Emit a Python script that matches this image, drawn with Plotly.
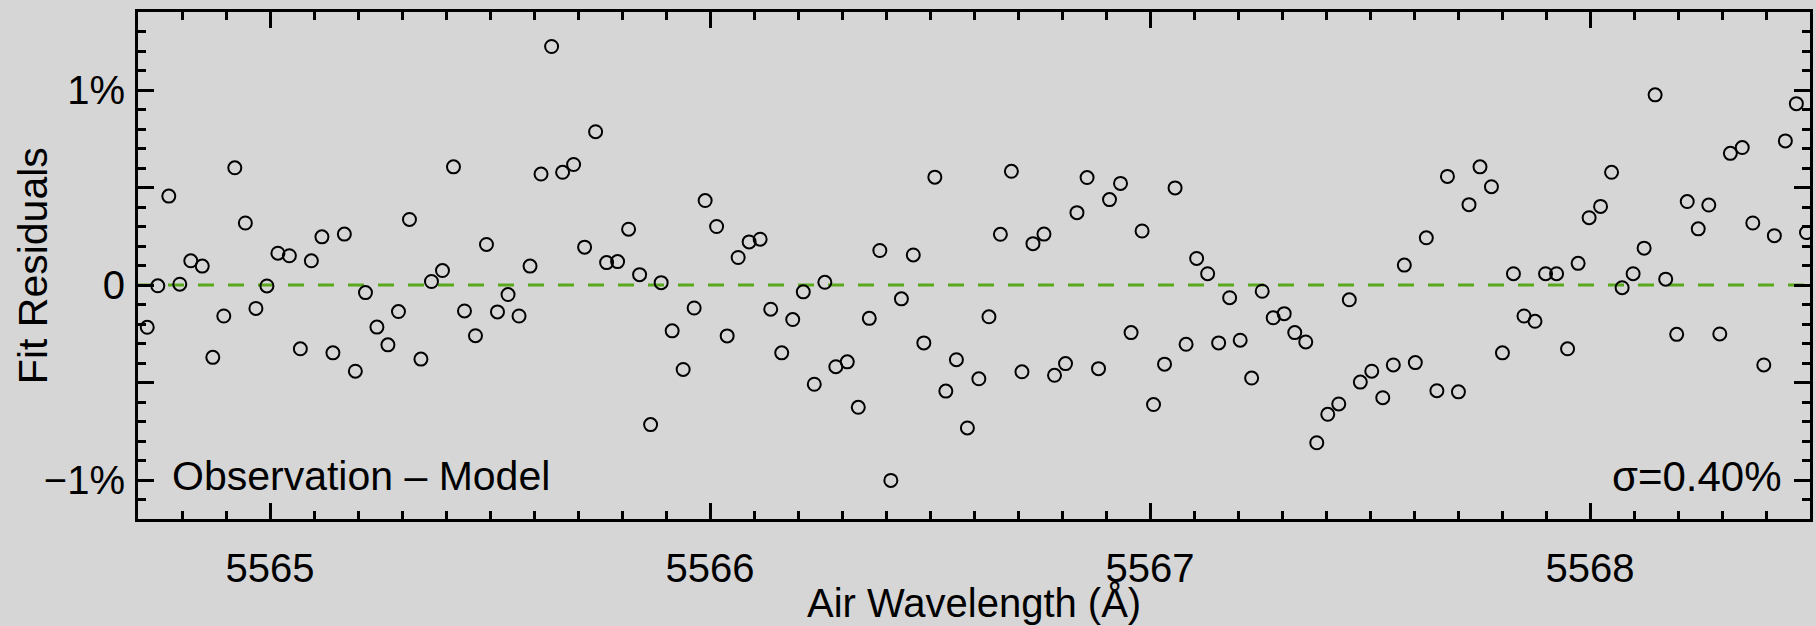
import plotly.graph_objects as go

# ---- data ----
wavelength = [
    5564.721, 5564.745, 5564.770, 5564.795, 5564.820, 5564.846, 5564.870, 5564.895, 5564.920, 5564.944,
    5564.968, 5564.993, 5565.018, 5565.044, 5565.069, 5565.094, 5565.118, 5565.143, 5565.169, 5565.194,
    5565.217, 5565.243, 5565.268, 5565.292, 5565.317, 5565.343, 5565.367, 5565.392, 5565.417, 5565.442,
    5565.467, 5565.492, 5565.517, 5565.541, 5565.566, 5565.591, 5565.616, 5565.640, 5565.665, 5565.690,
    5565.715, 5565.740, 5565.765, 5565.790, 5565.815, 5565.840, 5565.865, 5565.889, 5565.914, 5565.939,
    5565.964, 5565.989, 5566.015, 5566.039, 5566.064, 5566.089, 5566.114, 5566.138, 5566.163, 5566.188,
    5566.212, 5566.237, 5566.261, 5566.286, 5566.312, 5566.337, 5566.362, 5566.386, 5566.411, 5566.435,
    5566.462, 5566.486, 5566.511, 5566.536, 5566.560, 5566.585, 5566.611, 5566.634, 5566.660, 5566.685,
    5566.709, 5566.734, 5566.759, 5566.783, 5566.808, 5566.834, 5566.857, 5566.883, 5566.908, 5566.933,
    5566.957, 5566.982, 5567.008, 5567.033, 5567.057, 5567.082, 5567.106, 5567.131, 5567.156, 5567.181,
    5567.205, 5567.231, 5567.255, 5567.280, 5567.305, 5567.329, 5567.354, 5567.379, 5567.404, 5567.429,
    5567.453, 5567.478, 5567.504, 5567.529, 5567.553, 5567.578, 5567.603, 5567.628, 5567.652, 5567.676,
    5567.701, 5567.725, 5567.750, 5567.776, 5567.801, 5567.826, 5567.850, 5567.875, 5567.899, 5567.924,
    5567.949, 5567.973, 5567.998, 5568.024, 5568.049, 5568.073, 5568.098, 5568.123, 5568.148, 5568.172,
    5568.197, 5568.221, 5568.246, 5568.270, 5568.295, 5568.319, 5568.346, 5568.370, 5568.395, 5568.419,
    5568.444, 5568.469, 5568.492,
]
residual_pct = [
    -0.217, -0.004, 0.456, 0.004, 0.124, 0.097, -0.371, -0.159, 0.601, 0.318,
    -0.120, -0.005, 0.163, 0.150, -0.327, 0.124, 0.247, -0.348, 0.261, -0.442,
    -0.039, -0.216, -0.307, -0.136, 0.336, -0.380, 0.018, 0.074, 0.606, -0.133,
    -0.260, 0.208, -0.138, -0.049, -0.159, 0.097, 0.569, 1.223, 0.578, 0.618,
    0.194, 0.786, 0.115, 0.120, 0.286, 0.053, -0.716, 0.012, -0.235, -0.433,
    -0.118, 0.433, 0.300, -0.261, 0.141, 0.221, 0.235, -0.124, -0.348, -0.177,
    -0.035, -0.509, 0.014, -0.419, -0.394, -0.627, -0.171, 0.177, -1.002, -0.071,
    0.154, -0.297, 0.553, -0.544, -0.383, -0.733, -0.481, -0.163, 0.260, 0.583,
    -0.445, 0.212, 0.261, -0.463, -0.403, 0.371, 0.551, -0.429, 0.438, 0.521,
    -0.244, 0.277, -0.613, -0.406, 0.498, -0.304, 0.136, 0.058, -0.297, -0.065,
    -0.283, -0.477, -0.032, -0.168, -0.147, -0.244, -0.292, -0.809, -0.663, -0.610,
    -0.076, -0.498, -0.442, -0.578, -0.410, 0.102, -0.398, 0.242, -0.542, 0.557,
    -0.548, 0.412, 0.606, 0.504, -0.348, 0.058, -0.159, -0.186, 0.058, 0.058,
    -0.327, 0.111, 0.345, 0.403, 0.578, -0.014, 0.058, 0.189, 0.975, 0.030,
    -0.253, 0.428, 0.288, 0.410, -0.251, 0.675, 0.705, 0.318, -0.410, 0.253,
    0.739, 0.930, 0.269,
]
x_range = [5564.7, 5568.5]
y_range = [-1.2, 1.4]
x_tick_vals = [5565, 5566, 5567, 5568]
x_tick_text = ["5565", "5566", "5567", "5568"]
y_tick_vals = [-1.0, -0.5, 0.0, 0.5, 1.0]
y_tick_text = ["\u22121%", "", "0", "", "1%"]
x_title = "Air Wavelength (\u00c5)"
y_title = "Fit Residuals"
left_label = "Observation \u2013 Model"
sigma_label = "\u03c3=0.40%"

FONT = "Liberation Sans, Arial, Helvetica, sans-serif"
BG = "#d6d6d6"

fig = go.Figure()
fig.add_trace(go.Scatter(
    x=x_range, y=[0, 0], mode="lines",
    line=dict(color="#5aa81e", width=3, dash="16px,14px"),
    hoverinfo="skip",
))
fig.add_trace(go.Scatter(
    x=wavelength, y=residual_pct, mode="markers",
    marker=dict(symbol="circle-open", size=13, color="black", line=dict(width=2, color="black")),
))

axis_common = dict(
    showgrid=False, zeroline=False,
    showline=True, linecolor="black", linewidth=3, mirror="ticks",
    ticks="inside", ticklen=16, tickwidth=2.5, tickcolor="black",
    tickfont=dict(family=FONT, size=40, color="black"),
)

fig.update_xaxes(
    range=x_range, tickmode="array", tickvals=x_tick_vals, ticktext=x_tick_text,
    minor=dict(ticks="inside", ticklen=8, tickwidth=2.5, tickcolor="black", tick0=5565, dtick=0.1),
    ticklabelstandoff=12,
    **axis_common,
)
fig.update_yaxes(
    range=y_range, tickmode="array", tickvals=y_tick_vals, ticktext=y_tick_text,
    minor=dict(ticks="inside", ticklen=8, tickwidth=2.5, tickcolor="black", tick0=0, dtick=0.1),
    ticklabelstandoff=2,
    **axis_common,
)

fig.update_layout(
    width=1816, height=626,
    margin=dict(l=138, r=3, t=12, b=106.5, pad=0),
    paper_bgcolor=BG, plot_bgcolor=BG,
    showlegend=False,
    font=dict(family=FONT, color="black"),
    annotations=[
        dict(text=left_label, xref="paper", yref="paper", x=0.019, y=0.084,
             xanchor="left", yanchor="middle", showarrow=False,
             font=dict(family=FONT, size=41, color="black")),
        dict(text=sigma_label, xref="paper", yref="paper", x=0.9845, y=0.084,
             xanchor="right", yanchor="middle", showarrow=False,
             font=dict(family=FONT, size=42, color="black")),
        dict(text=x_title, xref="paper", yref="paper", x=0.5, y=-0.166,
             xanchor="center", yanchor="middle", showarrow=False,
             font=dict(family=FONT, size=40, color="black")),
        dict(text=y_title, xref="paper", yref="paper", x=-0.063, y=0.5,
             xanchor="center", yanchor="middle", showarrow=False, textangle=-90,
             font=dict(family=FONT, size=41, color="black")),
    ],
)

fig.write_html("out.html")
